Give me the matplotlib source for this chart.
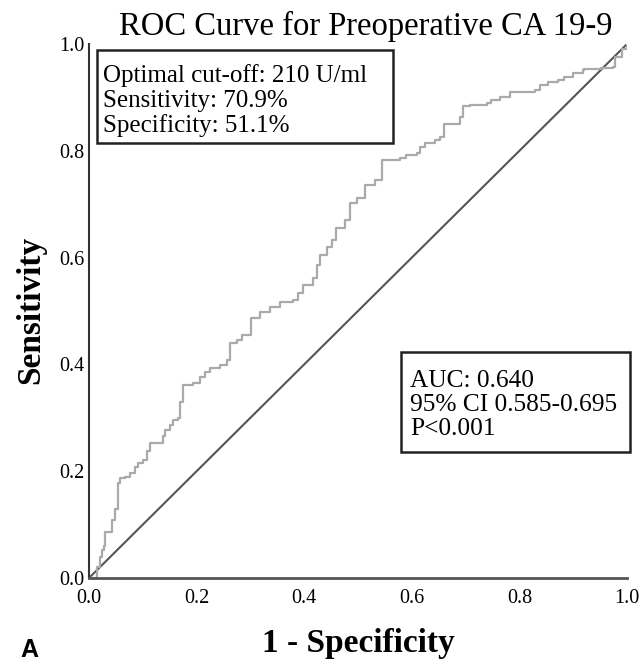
from matplotlib import pyplot as plt, patches
import numpy as np

# ROC curve vertices (1 - specificity, sensitivity)
fpr = [0.000, 0.015, 0.020, 0.024, 0.028, 0.030, 0.041, 0.042, 0.047, 0.048,
       0.052, 0.053, 0.058, 0.067, 0.076, 0.085, 0.092, 0.101, 0.107, 0.113,
       0.129, 0.138, 0.141, 0.151, 0.157, 0.166, 0.169, 0.175, 0.194, 0.206,
       0.216, 0.225, 0.243, 0.256, 0.262, 0.275, 0.284, 0.302, 0.318, 0.336,
       0.355, 0.380, 0.389, 0.398, 0.417, 0.423, 0.429, 0.442, 0.451, 0.460,
       0.476, 0.485, 0.498, 0.513, 0.532, 0.544, 0.578, 0.590, 0.609, 0.615,
       0.625, 0.643, 0.652, 0.659, 0.686, 0.690, 0.696, 0.708, 0.739, 0.748,
       0.764, 0.783, 0.829, 0.838, 0.854, 0.872, 0.883, 0.900, 0.918, 0.920,
       0.951, 0.974, 0.978, 0.990, 1.000]
tpr = [0.000, 0.021, 0.040, 0.052, 0.059, 0.087, 0.087, 0.109, 0.109, 0.130,
       0.130, 0.177, 0.187, 0.190, 0.196, 0.208, 0.215, 0.221, 0.237, 0.253,
       0.253, 0.265, 0.278, 0.287, 0.296, 0.299, 0.330, 0.361, 0.365, 0.377,
       0.386, 0.393, 0.399, 0.408, 0.440, 0.446, 0.455, 0.486, 0.499, 0.508,
       0.517, 0.521, 0.533, 0.549, 0.561, 0.586, 0.605, 0.620, 0.633, 0.655,
       0.670, 0.702, 0.711, 0.736, 0.745, 0.783, 0.786, 0.792, 0.795, 0.808,
       0.814, 0.820, 0.826, 0.851, 0.851, 0.864, 0.883, 0.886, 0.889, 0.895,
       0.901, 0.911, 0.914, 0.923, 0.929, 0.933, 0.939, 0.945, 0.951, 0.954,
       0.955, 0.957, 0.975, 0.990, 1.000]

ticks = [0.0, 0.2, 0.4, 0.6, 0.8, 1.0]
tick_labels = ['0.0', '0.2', '0.4', '0.6', '0.8', '1.0']

info_top = ['Optimal cut-off: 210 U/ml', 'Sensitivity: 70.9%', 'Specificity: 51.1%']
info_auc = ['AUC: 0.640', '95% CI 0.585-0.695', 'P<0.001']

serif = ['Liberation Serif', 'DejaVu Serif']

fig = plt.figure(figsize=(6.42, 6.62), dpi=100)
ax = fig.add_axes([89/642, 84/662, 538/642, 534/662])

ax.plot([0, 1], [0, 1], color='#555555', lw=1.5)
ax.plot(fpr, tpr, color='#aaaaaa', lw=1.6, drawstyle='steps-post')

ax.set_xlim(0, 1)
ax.set_ylim(0, 1)
ax.spines['right'].set_color('none')
ax.spines['top'].set_color('none')
ax.spines['left'].set_color('#333333')
ax.spines['bottom'].set_color('#555555')
ax.spines['left'].set_linewidth(1.5)
ax.spines['bottom'].set_linewidth(2)

ax.set_xticks(ticks)
ax.set_xticklabels(tick_labels, family=serif, fontsize=14.5)
ax.set_yticks(ticks)
ax.set_yticklabels(tick_labels, family=serif, fontsize=14.5)
ax.tick_params(length=0)
ax.tick_params(axis='x', pad=8)
ax.tick_params(axis='y', pad=3.5)

ax.set_xlabel('1 - Specificity', family=serif, fontsize=24, fontweight='bold')
ax.xaxis.set_label_coords(0.5, -0.1386)
ax.xaxis.label.set_va('baseline')
ax.set_ylabel('Sensitivity', family=serif, fontsize=24, fontweight='bold')
ax.yaxis.set_label_coords(-0.092, 0.502)
ax.yaxis.label.set_rotation_mode('anchor')
ax.yaxis.label.set_va('baseline')
ax.set_title('ROC Curve for Preoperative CA 19-9', family=serif, fontsize=23.5,
             x=0.515, y=1.0169, pad=0, va='baseline')

# boxed annotations
box1 = patches.Rectangle((0.015, 0.815), 0.55, 0.174, transform=ax.transAxes,
                         fill=False, ec='#222222', lw=1.8, clip_on=False)
ax.add_patch(box1)
for txt, yy in zip(info_top, [0.929, 0.882, 0.835]):
    ax.text(0.026, yy, txt, transform=ax.transAxes, family=serif, fontsize=18,
            va='baseline', ha='left')

box2 = patches.Rectangle((0.58, 0.236), 0.425, 0.187, transform=ax.transAxes,
                         fill=False, ec='#222222', lw=1.8, clip_on=False)
ax.add_patch(box2)
for txt, yy in zip(info_auc, [0.358, 0.313, 0.268]):
    ax.text(0.597, yy, txt, transform=ax.transAxes, family=serif, fontsize=18.3,
            va='baseline', ha='left')

fig.text(20/642, 0.0, 'A', family=['Liberation Sans', 'DejaVu Sans'],
         fontsize=18, fontweight='bold', ha='left', va='bottom')

fig.savefig('out.png', dpi=100)
